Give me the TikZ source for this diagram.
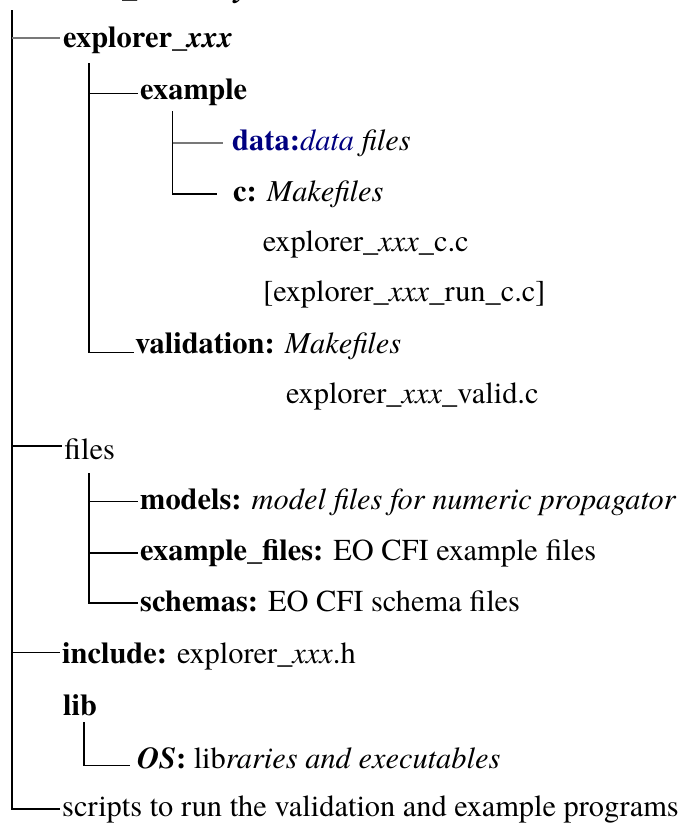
\documentclass[tikz,border=0pt]{standalone}
\usepackage{fontspec}
\setmainfont{TeX Gyre Termes}
\definecolor{navy}{RGB}{0,0,128}
\definecolor{lgray}{RGB}{120,120,120}
\begin{document}
\begin{tikzpicture}[x=1pt,y=-1pt,
  txt/.style={anchor=base west,inner sep=0pt,font=\fontsize{30.4}{36}\selectfont},
  conn/.style={line width=1.1pt,black},
  gconn/.style={line width=1.5pt,lgray}]
\useasboundingbox (0,0) rectangle (687,823);
% texts
\node[txt] (root) at (122,-2.3) {\textbf{\_\textit{directory}}};
\node[txt] (explorer) at (63,47) {\textbf{explorer\_\textit{xxx}}};
\node[txt] (example) at (140,99.5) {\textbf{example}};
\node[txt] (data) at (232,150) {\textcolor{navy}{\textbf{data:}\textit{data}} \textit{files}};
\node[txt] (c) at (233,201.5) {\textbf{c:} \textit{Makefiles}};
\node[txt] (cc) at (262.7,251.7) {explorer\_\textit{xxx}\_c.c};
\node[txt] (runc) at (263,301) {[explorer\_\textit{xxx}\_run\_c.c]};
\node[txt] (valid) at (135,353) {\textbf{validation:} \textit{Makefiles}};
\node[txt] (validc) at (286,403) {explorer\_\textit{xxx}\_valid.c};
\node[txt] (files) at (64,459) {files};
\node[txt] (models) at (140,509.5) {\textbf{models:} \textit{model files for numeric propagator}};
\node[txt] (exfiles) at (140,560) {\textbf{example\_files:} EO CFI example files};
\node[txt] (schemas) at (140,611) {\textbf{schemas:} EO CFI schema files};
\node[txt] (include) at (62,663) {\textbf{include:} explorer\_\textit{xxx}.h};
\node[txt] (lib) at (63,715) {\textbf{lib}};
\node[txt] (os) at (137,768) {\textbf{\textit{OS}:} lib\textit{raries and executables}};
\node[txt] (scripts) at (62,816.7) {scripts to run the validation and example programs};
% connector points
\coordinate (trunkTop) at (12,10);
\coordinate (eExplorer) at (60,38);
\coordinate (eFiles) at (62,446);
\coordinate (eInclude) at (60,652.3);
\coordinate (eScripts) at (60,809);
\coordinate (xTop) at (89,63);
\coordinate (eExample) at (138,93.3);
\coordinate (eValid) at (134,352.5);
\coordinate (exTop) at (172.5,111);
\coordinate (eData) at (223,143);
\coordinate (eC) at (217,194);
\coordinate (fTop) at (89,473);
\coordinate (eModels) at (138,501.7);
\coordinate (eExfiles) at (138,553);
\coordinate (eSchemas) at (138,603);
\coordinate (lTop) at (84,722);
\coordinate (eOS) at (130,765.7);
% trunk
\draw[conn] (trunkTop) |- (eScripts);
\draw[gconn] (trunkTop |- eExplorer) -- (eExplorer);
\draw[conn] (trunkTop |- eFiles) -- (eFiles);
\draw[conn] (trunkTop |- eInclude) -- (eInclude);
% explorer_xxx children
\draw[conn] (xTop) |- (eValid);
\draw[conn] (xTop |- eExample) -- (eExample);
% example children
\draw[conn] (exTop) |- (eC);
\draw[gconn] (exTop |- eData) -- (eData);
% files children
\draw[conn] (fTop) |- (eSchemas);
\draw[conn] (fTop |- eModels) -- (eModels);
\draw[conn] (fTop |- eExfiles) -- (eExfiles);
% lib child
\draw[conn] (lTop) |- (eOS);
\end{tikzpicture}
\end{document}
